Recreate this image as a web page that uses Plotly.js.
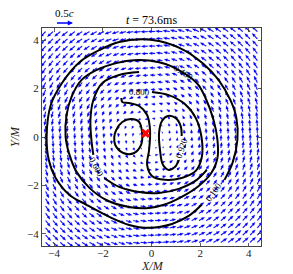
<!DOCTYPE html>
<html>
<head>
<meta charset="utf-8">
<script src="https://cdn.plot.ly/plotly-3.0.1.min.js"></script>
<style>html,body{margin:0;padding:0;background:#fff;}#chart{width:293px;height:274px;}</style>
</head>
<body>
<div id="chart"></div>
<script>
// ---- data ----
const gridX = [-4.35,-4.05,-3.75,-3.45,-3.15,-2.85,-2.55,-2.25,-1.95,-1.65,-1.35,-1.05,-0.75,-0.45,-0.15,0.15,0.45,0.75,1.05,1.35,1.65,1.95,2.25,2.55,2.85,3.15,3.45,3.75,4.05,4.35];
const gridY = [-4.35,-4.05,-3.75,-3.45,-3.15,-2.85,-2.55,-2.25,-1.95,-1.65,-1.35,-1.05,-0.75,-0.45,-0.15,0.15,0.45,0.75,1.05,1.35,1.65,1.95,2.25,2.55,2.85,3.15,3.45,3.75,4.05,4.35];
// orbital speed (units of c), by radius (M)
const speedRadius = [0,0.5,1,1.5,2,2.5,3,3.5,4,4.5,5,5.5,6,6.5];
const speedValue  = [0.04,0.06,0.09,0.11,0.13,0.15,0.165,0.18,0.19,0.2,0.21,0.215,0.22,0.225];
const keySpeed = 0.5;

// density contours (levels and traced lines)
const c100X = [3.0,3.33,3.53,3.49,3.24,2.76,2.14,1.33,0.31,-0.39,-1.33,-2.14,-2.96,-3.65,-4.14,-4.31,-4.22,-3.94,-3.37,-2.67,-1.73,-0.92,-0.10,0.84,1.53,2.06];
const c100Y = [-1.77,-1.07,-0.12,0.78,1.53,2.35,3.01,3.59,3.96,4.04,3.92,3.59,3.09,2.27,1.32,0,-0.95,-1.69,-2.39,-2.80,-3.30,-3.63,-3.75,-3.59,-3.26,-2.80];
const c400X = [1.86,2.22,2.55,2.71,2.71,2.43,1.94,1.24,0.51,-0.10,-0.92,-1.86,-2.55,-3.08,-3.37,-3.53,-3.49,-3.29,-2.88,-2.27,-1.45,-0.51,0.31,0.80];
const c400Y = [2.23,1.61,0.70,-0.12,-0.87,-1.53,-2.02,-2.47,-2.80,-2.93,-2.89,-2.60,-2.10,-1.44,-0.74,0,0.91,1.65,2.35,2.76,3.05,3.18,3.09,2.93];
const c600X = [-0.51,-1.33,-2.02,-2.39,-2.51,-2.47,-2.39,null,-1.94,-1.33,-0.51,0.31,1.12,1.86,2.27];
const c600Y = [2.68,2.56,2.23,1.53,0.70,-0.12,-0.74,null,-1.69,-2.06,-2.27,-2.31,-2.14,-1.77,-1.36];
const c800X = [0.02,0.71,1.37,1.82,2.06,2.06,1.82,1.24,0.55,0.02,-0.18,-0.10,-0.06,-0.18,-0.51,-0.92,-1.20,-1.24];
const c800Y = [1.86,1.73,1.36,0.78,-0.04,-0.87,-1.40,-1.69,-1.77,-1.61,-1.15,-0.54,0.29,0.91,1.28,1.40,1.44,1.61];
const c920aX = [-1.45,-1.20,-0.84,-0.51,-0.39,-0.43,-0.71,-1.16,-1.49,-1.53,-1.45];
const c920aY = [0.29,0.62,0.74,0.62,0.21,-0.33,-0.66,-0.66,-0.33,0,0.29];
const c920bX = [1.24,1.20,1.00,0.67,0.43,0.31,0.35,0.47,0.71,0.96,1.12];
const c920bY = [0.04,0.45,0.78,0.87,0.66,0.16,-0.54,-1.15,-1.36,-1.24,-0.95];
const labelText = ['0.100','0.400','0.600','0.800','0.920'];
const labelX = [2.55,1.33,-2.27,-0.51,1.24];
const labelY = [-2.27,2.64,-1.24,1.86,-0.45];
const labelAngle = [-55,32,62,3,-72];
const centreX = [-0.24];
const centreY = [0.15];

// ---- layout geometry ----
const W = 293, H = 274;
const margin = {l:42, r:32, t:28, b:28};
const xRange = [-4.5,4.5], yRange = [-4.5,4.5];
const plotW = W - margin.l - margin.r;
const plotH = H - margin.t - margin.b;
const pxPerUnit = plotW / (xRange[1]-xRange[0]);
const keyPx = 17.5;                       // length of the 0.5c key arrow in px
const unitsPerC = keyPx / keySpeed / pxPerUnit;

// ---- build quiver polygons ----
const ax = [], ay = [];
function speedAt(r){
  let idx = Math.round(r/(speedRadius[1]-speedRadius[0]));
  if (idx < 0) idx = 0;
  if (idx > speedValue.length-1) idx = speedValue.length-1;
  return speedValue[idx];
}
for (const gy of gridY){
  for (const gx of gridX){
    const r = Math.hypot(gx, gy);
    if (r < 1e-9) continue;
    const s = speedAt(r);
    const dx = -gy/r, dy = gx/r;       // counter-clockwise orbital direction
    const nx = -dy, ny = dx;
    const L = s*unitsPerC;
    let hl = 3.4/pxPerUnit, hw = 1.4/pxPerUnit, sw = 0.45/pxPerUnit;
    if (L < hl*1.2){ const f = L/(hl*1.2); hl*=f; hw*=f; sw*=f; }
    const tx = gx, ty = gy;
    const kx = tx + dx*(L-hl), ky = ty + dy*(L-hl);
    const px = tx + dx*L, py = ty + dy*L;
    ax.push(tx+nx*sw, kx+nx*sw, kx+nx*hw, px, kx-nx*hw, kx-nx*sw, tx-nx*sw, null);
    ay.push(ty+ny*sw, ky+ny*sw, ky+ny*hw, py, ky-ny*hw, ky-ny*sw, ty-ny*sw, null);
  }
}

const serif = 'Liberation Serif, DejaVu Serif, serif';
const contourLine = {color:'#000', width:2, shape:'spline', smoothing:1};
const traces = [
  {type:'scatter', x:ax, y:ay, mode:'lines', fill:'toself', fillcolor:'#0000ff',
   line:{color:'#0000ff', width:0.2}, hoverinfo:'skip', showlegend:false},
  {type:'scatter', x:c100X, y:c100Y, mode:'lines', line:contourLine, hoverinfo:'skip', showlegend:false},
  {type:'scatter', x:c400X.concat([c400X[0]]), y:c400Y.concat([c400Y[0]]), mode:'lines', line:contourLine, hoverinfo:'skip', showlegend:false},
  {type:'scatter', x:c600X, y:c600Y, mode:'lines', line:contourLine, hoverinfo:'skip', showlegend:false},
  {type:'scatter', x:c800X, y:c800Y, mode:'lines', line:contourLine, hoverinfo:'skip', showlegend:false},
  {type:'scatter', x:c920aX, y:c920aY, mode:'lines', line:contourLine, hoverinfo:'skip', showlegend:false},
  {type:'scatter', x:c920bX, y:c920bY, mode:'lines', line:contourLine, hoverinfo:'skip', showlegend:false},
  {type:'scatter', x:centreX, y:centreY, mode:'markers', marker:{symbol:'x', size:8, color:'#ff0000', line:{width:0}},
   hoverinfo:'skip', showlegend:false}
];

const annotations = labelText.map((t,i)=>({
  x:labelX[i], y:labelY[i], xref:'x', yref:'y', text:t, showarrow:false,
  xanchor:'center', yanchor:'middle',
  textangle:labelAngle[i], font:{family:serif, size:9, color:'#000'}
}));
const paperX = px => (px - margin.l)/plotW;
const paperY = py => (H - margin.b - py)/plotH;
annotations.push({
  x:paperX(73), y:paperY(23), xref:'paper', yref:'paper', text:'', showarrow:true,
  ax:-keyPx, ay:0, axref:'pixel', ayref:'pixel', arrowcolor:'#0000ff', arrowwidth:1.3,
  arrowhead:2, arrowsize:0.8
});
annotations.push({
  x:paperX(64), y:paperY(13), xref:'paper', yref:'paper', text:'0.5<i>c</i>', showarrow:false,
  xanchor:'center', yanchor:'middle', font:{family:serif, size:11, color:'#000'}
});
annotations.push({
  x:paperX(151), y:paperY(20), xref:'paper', yref:'paper', text:'<i>t</i> = 73.6ms', showarrow:false,
  xanchor:'center', yanchor:'middle', font:{family:serif, size:12, color:'#000'}
});
annotations.push({
  x:paperX(152), y:paperY(266), xref:'paper', yref:'paper', text:'<i>X/M</i>', showarrow:false,
  xanchor:'center', yanchor:'middle', font:{family:serif, size:12, color:'#222'}
});
annotations.push({
  x:paperX(15), y:paperY(137), xref:'paper', yref:'paper', text:'<i>Y/M</i>', showarrow:false,
  xanchor:'center', yanchor:'middle', textangle:-90, font:{family:serif, size:12, color:'#222'}
});

const axisCommon = {
  tickvals:[-4,-2,0,2,4], ticks:'inside', ticklen:3.5, tickwidth:0.8, tickcolor:'#333',
  mirror:'ticks', showline:true, linecolor:'#444', linewidth:1, showgrid:false, zeroline:false,
  tickfont:{family:serif, size:11, color:'#222'}
};
const layout = {
  width:W, height:H, margin:margin, paper_bgcolor:'#fff', plot_bgcolor:'#fff', showlegend:false,
  xaxis:Object.assign({}, axisCommon, {range:xRange, ticklabelstandoff:-3}),
  yaxis:Object.assign({}, axisCommon, {range:yRange}),
  annotations:annotations
};
Plotly.newPlot('chart', traces, layout, {staticPlot:true, displayModeBar:false});
</script>
</body>
</html>
